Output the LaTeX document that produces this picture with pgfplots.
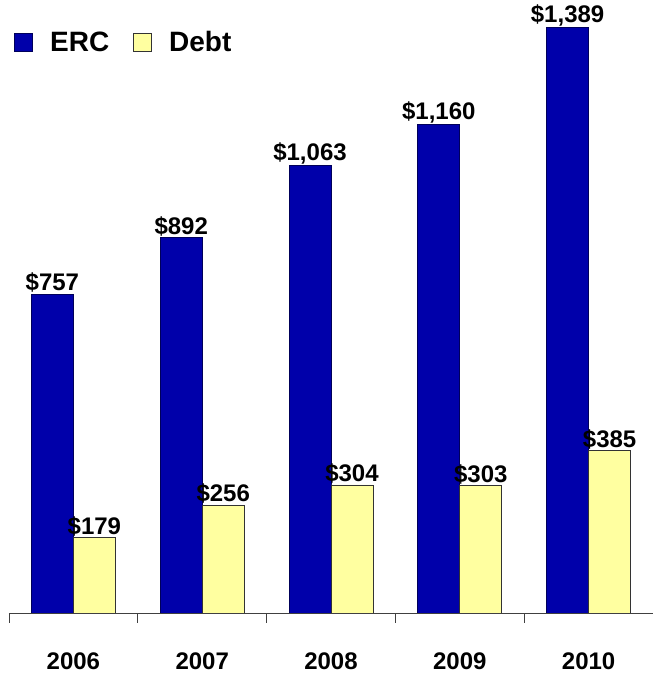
\documentclass[border=0pt]{standalone}
\usepackage{fontspec}
\setmainfont{Liberation Sans}
\usepackage{pgfplots}
\pgfplotsset{compat=1.18}
\definecolor{ercblue}{RGB}{0,0,170}
\definecolor{ercedge}{RGB}{0,0,90}
\definecolor{debtyellow}{RGB}{255,255,160}
\begin{document}
\begin{tikzpicture}
\begin{axis}[
  scale only axis, width=644pt, height=613pt,
  xmin=-0.5, xmax=4.5, ymin=0, ymax=1455,
  enlargelimits=false,
  ybar=0pt, bar width=42pt,
  axis x line*=bottom, axis y line=none,
  ytick=\empty,
  xtick={0,1,2,3,4}, xticklabels={2006,2007,2008,2009,2010},
  major tick length=0pt,
  minor xtick={-0.5,0.5,1.5,2.5,3.5,4.5},
  minor tick length=10pt, tick align=outside,
  every tick/.style={draw=black!75, line width=0.8pt},
  x axis line style={draw=black!75, line width=0.8pt},
  xticklabel style={font=\fontsize{24}{28}\selectfont\bfseries, yshift=-36pt},
  nodes near coords={\$\pgfmathprintnumber[assume math mode=true,1000 sep={,}]{\pgfplotspointmeta}},
  every node near coord/.append style={font=\fontsize{24}{28}\selectfont\bfseries, anchor=south, inner sep=1pt},
  legend style={at={(0.005,1)}, anchor=north west, xshift=2pt, yshift=-29pt, draw=none, fill=none,
    legend columns=2, font=\fontsize{28}{32}\selectfont\bfseries, inner sep=0pt,
    /tikz/every even column/.append style={column sep=22pt}},
]
\addplot[fill=ercblue, draw=ercedge, line width=0.8pt,
  legend image code/.code={\draw[fill=ercblue, draw=ercedge, line width=0.8pt] (0pt,-9pt) rectangle (18pt,9pt); \path (33pt,0pt);}]
  coordinates {(0,757) (1,892) (2,1063) (3,1160) (4,1389)};
\addplot[fill=debtyellow, draw=black!80, line width=0.8pt,
  legend image code/.code={\draw[fill=debtyellow, draw=black!80, line width=0.8pt] (0pt,-9pt) rectangle (18pt,9pt); \path (33pt,0pt);}]
  coordinates {(0,179) (1,256) (2,304) (3,303) (4,385)};
\legend{ERC,Debt}
\end{axis}
\pgfresetboundingbox
\path (-9pt,-67pt) rectangle (644pt,613pt);
\end{tikzpicture}
\end{document}
